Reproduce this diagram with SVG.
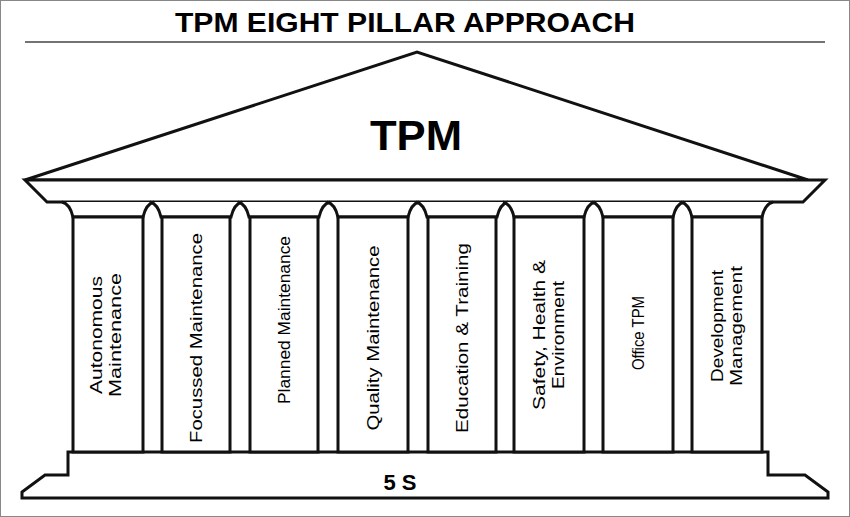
<svg xmlns="http://www.w3.org/2000/svg" width="850" height="517" viewBox="0 0 850 517">
<defs>
<style>
.s{fill:#fff;stroke:#111;stroke-width:3;stroke-linejoin:miter}
.t{font-family:"Liberation Sans",Arial,sans-serif;fill:#000}
.p{font-size:17px;text-anchor:middle}
.b{font-weight:bold;text-anchor:middle}
</style>
<g id="cap"><path class="s" d="M-46,202 Q-38,204 -35,217 L35,217 Q38,204 46,202"/></g>
</defs>
<rect x="0.5" y="0.5" width="849" height="516" fill="#fff" stroke="#888"/>
<text class="t b" x="405" y="32" font-size="27" textLength="460" lengthAdjust="spacingAndGlyphs">TPM EIGHT PILLAR APPROACH</text>
<line x1="25" y1="42" x2="825" y2="42" stroke="#444" stroke-width="1.5"/>
<g id="roof">
<path class="s" d="M25,180 L417,52 L808,180 Z"/>
<path class="s" d="M25,180 L825,180 L803,202 L47,202 Z"/>
<text class="t b" x="416" y="150" font-size="42" textLength="92" lengthAdjust="spacingAndGlyphs">TPM</text>
</g>
<g id="base">
<path class="s" d="M68,452 L68,475 L45,475 L22,492 L22,498 L828,498 L828,492 L805,475 L768,475 L768,452 Z"/>
<text class="t b" x="400" y="490" font-size="22">5 S</text>
</g>
<g id="pillar1"><use href="#cap" x="108"/><rect class="s" x="73" y="217" width="70" height="235"/><text class="t p" transform="translate(106,335) rotate(-90)"><tspan x="0" y="-4" textLength="118" lengthAdjust="spacingAndGlyphs">Autonomous</tspan><tspan x="0" y="15" textLength="124" lengthAdjust="spacingAndGlyphs">Maintenance</tspan></text></g>
<g id="pillar2"><use href="#cap" x="196"/><rect class="s" x="162" y="217" width="68" height="235"/><text class="t p" transform="translate(196,338) rotate(-90)" y="6" textLength="210" lengthAdjust="spacingAndGlyphs">Focussed Maintenance</text></g>
<g id="pillar3"><use href="#cap" x="284"/><rect class="s" x="250" y="217" width="68" height="235"/><text class="t p" transform="translate(284,320) rotate(-90)" y="6" textLength="168" lengthAdjust="spacingAndGlyphs">Planned Maintenance</text></g>
<g id="pillar4"><use href="#cap" x="373"/><rect class="s" x="338" y="217" width="70" height="235"/><text class="t p" transform="translate(373,338) rotate(-90)" y="6" textLength="185" lengthAdjust="spacingAndGlyphs">Quality Maintenance</text></g>
<g id="pillar5"><use href="#cap" x="462"/><rect class="s" x="428" y="217" width="68" height="235"/><text class="t p" transform="translate(462,338) rotate(-90)" y="6" textLength="190" lengthAdjust="spacingAndGlyphs">Education &amp; Training</text></g>
<g id="pillar6"><use href="#cap" x="549"/><rect class="s" x="514" y="217" width="70" height="235"/><text class="t p" transform="translate(549,335) rotate(-90)"><tspan x="0" y="-4" textLength="150" lengthAdjust="spacingAndGlyphs">Safety, Health &amp;</tspan><tspan x="0" y="15" textLength="108" lengthAdjust="spacingAndGlyphs">Environment</tspan></text></g>
<g id="pillar7"><use href="#cap" x="638"/><rect class="s" x="603" y="217" width="70" height="235"/><text class="t p" transform="translate(638,333) rotate(-90)" y="6" textLength="74" lengthAdjust="spacingAndGlyphs">Office TPM</text></g>
<g id="pillar8"><use href="#cap" x="727"/><rect class="s" x="692" y="217" width="70" height="235"/><text class="t p" transform="translate(727,326) rotate(-90)"><tspan x="0" y="-4" textLength="112" lengthAdjust="spacingAndGlyphs">Development</tspan><tspan x="0" y="15" textLength="120" lengthAdjust="spacingAndGlyphs">Management</tspan></text></g>
<g id="connectors"/>
</svg>
